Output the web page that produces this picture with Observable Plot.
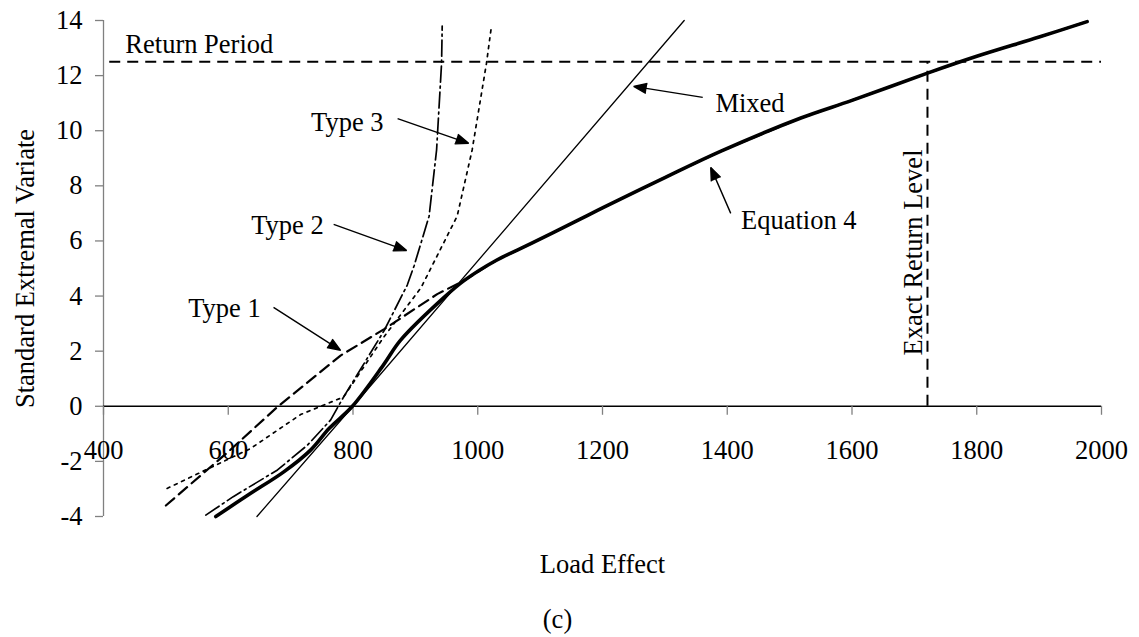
<!DOCTYPE html>
<html>
<head>
<meta charset="utf-8">
<script src="https://cdn.jsdelivr.net/npm/d3@7"></script>
<script src="https://cdn.jsdelivr.net/npm/@observablehq/plot@0.6"></script>
<style>
  html, body { margin: 0; padding: 0; background: white; }
  #chart { width: 1139px; height: 637px; }
</style>
</head>
<body>
<div id="chart"></div>
<script>
// ---- Data ----
const xTicks = [400, 600, 800, 1000, 1200, 1400, 1600, 1800, 2000];
const yTicks = [-4, -2, 0, 2, 4, 6, 8, 10, 12, 14];

const eq4X = [580, 636, 689, 732, 762, 799, 850, 876, 946, 978, 1030, 1085, 1165, 1200, 1300, 1390, 1518, 1600, 1721, 1800, 1900, 1977];
const eq4Y = [-4.0, -3.16, -2.38, -1.59, -0.8, 0.0, 1.54, 2.39, 3.95, 4.56, 5.3, 5.9, 6.8, 7.2, 8.3, 9.26, 10.46, 11.1, 12.09, 12.7, 13.4, 13.96];

const type1X = [500, 600, 680, 780, 850, 935, 978, 1030, 1085, 1165, 1200, 1300, 1390, 1518, 1600, 1721, 1800, 1900, 1977];
const type1Y = [-3.6, -1.65, 0.0, 1.84, 2.8, 4.07, 4.56, 5.3, 5.9, 6.8, 7.2, 8.3, 9.26, 10.46, 11.1, 12.09, 12.7, 13.4, 13.96];

const type2X = [564, 608, 679, 727, 764, 785, 850, 887, 898, 922, 934, 942, 943];
const type2Y = [-3.95, -3.28, -2.31, -1.41, -0.5, 0.34, 2.75, 4.4, 5.1, 6.9, 9.3, 12.45, 13.8];

const type3X = [502, 636, 716, 785, 849, 909, 967, 991, 1014, 1022];
const type3Y = [-2.98, -1.53, -0.3, 0.34, 2.5, 4.3, 6.9, 9.3, 12.45, 13.8];

const mixedX = [646, 800, 1331];
const mixedY = [-4.0, 0.0, 14.0];

const returnPeriod = 12.5;
const returnPeriodStart = 410;
const exactReturnLevel = 1721;

// annotation labels and arrows (data coordinates)
const leftLabelText = ["Type 3", "Type 2", "Type 1"];
const leftLabelX = [849, 753, 652];
const leftLabelY = [10.31, 6.56, 3.55];
const rightLabelText = ["Mixed", "Equation 4"];
const rightLabelX = [1381, 1422];
const rightLabelY = [10.98, 6.74];
const arrowX1 = [871.5, 769, 672.6, 1360.7, 1405.6];
const arrowY1 = [10.44, 6.60, 3.59, 11.21, 7.0];
const arrowX2 = [985.4, 886, 780.1, 1250, 1373.5];
const arrowY2 = [9.54, 5.65, 2.03, 11.61, 8.67];

// ---- Build tables ----
const toRows = (xs, ys) => xs.map((x, i) => ({x, y: ys[i]}));
const eq4 = toRows(eq4X, eq4Y);
const type1 = toRows(type1X, type1Y);
const type2 = toRows(type2X, type2Y);
const type3 = toRows(type3X, type3Y);
const mixed = toRows(mixedX, mixedY);
const leftLabels = leftLabelText.map((t, i) => ({t, x: leftLabelX[i], y: leftLabelY[i]}));
const rightLabels = rightLabelText.map((t, i) => ({t, x: rightLabelX[i], y: rightLabelY[i]}));
const arrows = arrowX1.map((x1, i) => ({x1, y1: arrowY1[i], x2: arrowX2[i], y2: arrowY2[i]}));

const FONT = "Liberation Serif, Times New Roman, serif";
const FS = 26.5;

const chart = Plot.plot({
  width: 1139,
  height: 637,
  marginLeft: 103,
  marginRight: 38,
  marginTop: 20,
  marginBottom: 121,
  x: {domain: [400, 2000], axis: null},
  y: {domain: [-4, 14], axis: null},
  style: {fontFamily: FONT, fontSize: FS + "px", background: "white", color: "black"},
  marks: [
    // y axis line + ticks + labels
    Plot.ruleX([400], {stroke: "#808080", strokeWidth: 1.3}),
    Plot.ruleY(yTicks, {y: d => d, x1: 400, x2: 400, insetLeft: -8, stroke: "#808080", strokeWidth: 1.3}),
    Plot.text(yTicks, {x: 400, y: d => d, text: d => String(d), dx: -21, textAnchor: "end", fontSize: FS, fill: "black"}),
    // x axis at y=0
    Plot.ruleY([0], {stroke: "black", strokeWidth: 1.5}),
    Plot.ruleX(xTicks, {x: d => d, y1: 0, y2: 0, insetBottom: -9, stroke: "#808080", strokeWidth: 1.3}),
    Plot.text(xTicks, {x: d => d, y: 0, dy: 44.5, text: d => String(d), fontSize: FS, fill: "black"}),
    // reference lines
    Plot.ruleY([returnPeriod], {x1: returnPeriodStart, x2: 2000, stroke: "black", strokeWidth: 2, strokeDasharray: "11,7"}),
    Plot.ruleX([exactReturnLevel], {y1: 0, y2: returnPeriod, stroke: "black", strokeWidth: 2, strokeDasharray: "11,7"}),
    // series
    Plot.line(mixed, {x: "x", y: "y", stroke: "black", strokeWidth: 1.3}),
    Plot.line(type3, {x: "x", y: "y", stroke: "black", strokeWidth: 1.7, strokeDasharray: "3,5"}),
    Plot.line(type2, {x: "x", y: "y", stroke: "black", strokeWidth: 1.7, strokeDasharray: "16,4,2,4"}),
    Plot.line(eq4, {x: "x", y: "y", stroke: "black", strokeWidth: 3.6, curve: "catmull-rom"}),
    Plot.line(type1, {x: "x", y: "y", stroke: "black", strokeWidth: 2.2, strokeDasharray: "11,6"}),
    // annotations
    Plot.arrow(arrows, {x1: "x1", y1: "y1", x2: "x2", y2: "y2", stroke: "black", strokeWidth: 1.4, headLength: 15, headAngle: 42, strokeLinecap: "butt", strokeLinejoin: "miter"}),
    Plot.text(leftLabels, {x: "x", y: "y", text: "t", textAnchor: "end", fontSize: FS, fill: "black"}),
    Plot.text(rightLabels, {x: "x", y: "y", text: "t", textAnchor: "start", fontSize: FS, fill: "black"}),
    Plot.text(["Return Period"], {x: 435, y: 13.13, text: d => d, textAnchor: "start", fontSize: FS, fill: "black"}),
    Plot.text(["Exact Return Level"], {x: 1698.6, y: 5.58, text: d => d, rotate: -90, textAnchor: "middle", lineAnchor: "middle", fontSize: FS, fill: "black"}),
    // axis titles & caption
    Plot.text(["Standard Extremal Variate"], {frameAnchor: "left", dx: -78, rotate: -90, textAnchor: "middle", lineAnchor: "middle", text: d => d, fontSize: FS, fill: "black"}),
    Plot.text(["Load Effect"], {frameAnchor: "bottom", dy: 48.5, textAnchor: "middle", lineAnchor: "middle", text: d => d, fontSize: FS, fill: "black"}),
    Plot.text(["(c)"], {frameAnchor: "bottom", dx: -45, dy: 103.3, textAnchor: "middle", lineAnchor: "middle", text: d => d, fontSize: FS, fill: "black"})
  ]
});
// fill the arrowheads (the head sub-path of each arrow forms a triangle)
chart.querySelectorAll('g[aria-label="arrow"] path').forEach(p => {
  p.setAttribute("fill", "black");
  p.style.fill = "black";
});
document.getElementById("chart").appendChild(chart);
</script>
</body>
</html>
